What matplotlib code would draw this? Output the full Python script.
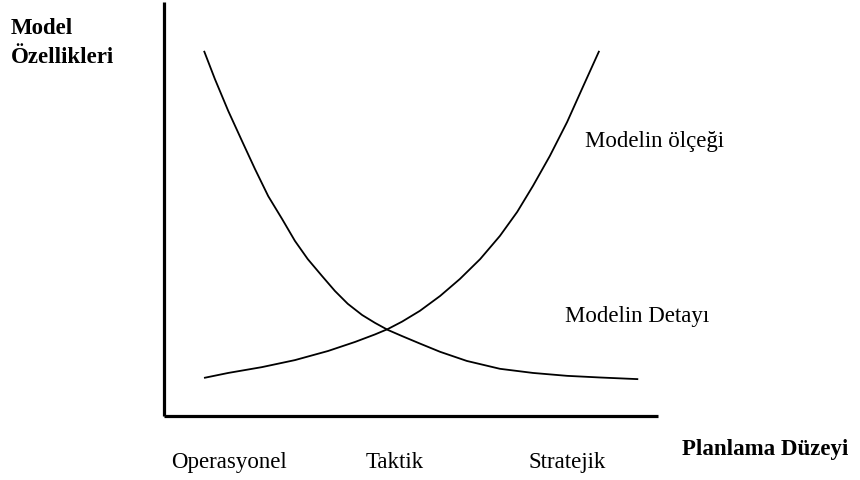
import matplotlib
matplotlib.use('Agg')
import matplotlib.pyplot as plt

plt.rcParams['font.family'] = ['Liberation Serif', 'DejaVu Serif']

# === DATA (axis units 0-10) ===
detay_x = [0.81, 1.03, 1.30, 1.58, 1.84, 2.11, 2.39, 2.65, 2.91, 3.20,
           3.46, 3.72, 4.01, 4.27, 4.53, 4.82, 5.18, 5.59, 6.13, 6.80,
           7.47, 8.16, 8.83, 9.60]
detay_y = [8.82, 8.14, 7.37, 6.64, 5.97, 5.31, 4.76, 4.23, 3.79, 3.38,
           3.02, 2.71, 2.44, 2.25, 2.08, 1.93, 1.75, 1.55, 1.33, 1.14,
           1.04, 0.97, 0.93, 0.89]

olcek_x = [0.81, 1.30, 1.98, 2.65, 3.32, 3.87, 4.27, 4.53, 4.82, 5.18,
           5.59, 5.99, 6.40, 6.80, 7.15, 7.47, 7.81, 8.16, 8.48, 8.81]
olcek_y = [0.92, 1.04, 1.18, 1.35, 1.57, 1.79, 1.97, 2.10, 2.28, 2.54,
           2.90, 3.31, 3.79, 4.35, 4.93, 5.56, 6.28, 7.10, 7.95, 8.82]

level_pos = [1.32, 4.66, 8.16]
level_labels = ['Operasyonel', 'Taktik', 'Stratejik']

W, H = 860, 481
FS = 16.5

fig = plt.figure(figsize=(W / 100, H / 100), dpi=100)
fig.patch.set_facecolor('white')

# axes frame in pixels: x 164..658, y 3..417 (from top)
ax = fig.add_axes([164 / W, (H - 417) / H, (658 - 164) / W, (417 - 3) / H])
ax.set_xlim(0, 10)
ax.set_ylim(0, 10)
for side in ('top', 'right'):
    ax.spines[side].set_visible(False)
for side in ('left', 'bottom'):
    ax.spines[side].set_linewidth(2.3)
    ax.spines[side].set_color('black')
    ax.spines[side].set_capstyle('butt')

ax.plot(detay_x, detay_y, color='black', lw=1.3,
        solid_joinstyle='round', solid_capstyle='butt')
ax.plot(olcek_x, olcek_y, color='black', lw=1.3,
        solid_joinstyle='round', solid_capstyle='butt')

ax.set_yticks([])
ax.set_xticks(level_pos)
ax.set_xticklabels(level_labels, fontsize=FS)
ax.tick_params(axis='x', length=0, pad=25)

# curve labels
fig.text(585 / W, 1 - 142 / H, 'Modelin ölçeği', fontsize=FS,
         ha='left', va='center')
fig.text(565 / W, 1 - 317 / H, 'Modelin Detayı', fontsize=FS,
         ha='left', va='center')

# axis titles
fig.text(11 / W, 1 - 43 / H, 'Model\nÖzellikleri', fontsize=FS,
         fontweight='bold', ha='left', va='center', linespacing=1.45)
fig.text(848 / W, 1 - 450 / H, 'Planlama Düzeyi', fontsize=FS,
         fontweight='bold', ha='right', va='center')

fig.savefig('out.png', dpi=100, facecolor='white')
